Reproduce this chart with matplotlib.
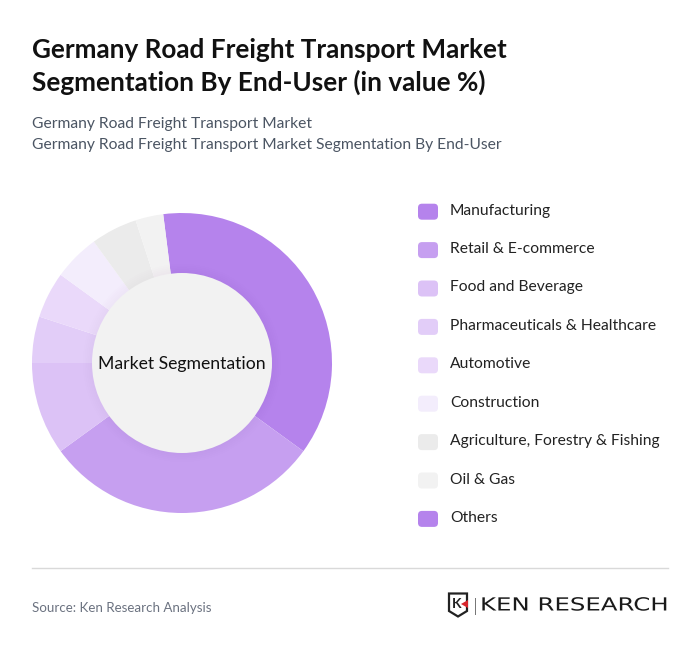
import matplotlib
matplotlib.use("Agg")
import matplotlib.pyplot as plt
from matplotlib.patches import FancyBboxPatch, Circle, Polygon, Rectangle
from matplotlib.patheffects import AbstractPathEffect
from matplotlib.transforms import Affine2D

categories = ["Manufacturing", "Retail & E-commerce", "Food and Beverage",
              "Pharmaceuticals & Healthcare", "Automotive", "Construction",
              "Agriculture, Forestry & Fishing", "Oil & Gas", "Others"]
values = [37, 30, 10, 5, 5, 5, 5, 3, 0]
colors = ["#b583ec", "#c69ff0", "#dcc2f6", "#e2cdf8", "#ead9fa", "#f3edfc",
          "#ebebeb", "#f2f2f2", "#b583ec"]
title_lines = ["Germany Road Freight Transport Market",
               "Segmentation By End-User (in value %)"]
subtitle_lines = ["Germany Road Freight Transport Market",
                  "Germany Road Freight Transport Market Segmentation By End-User"]
center_label = "Market Segmentation"
source = "Source: Ken Research Analysis"

plt.rcParams["font.family"] = ["Lato", "DejaVu Sans"]
W, H = 700, 653
fig = plt.figure(figsize=(W / 100, H / 100), dpi=100, facecolor="white")


class StretchX(AbstractPathEffect):
    """Widen a text's outline horizontally around a fixed x position."""
    def __init__(self, x0, factor):
        super().__init__()
        self.x0, self.factor = x0, factor

    def draw_path(self, renderer, gc, tpath, affine, rgbFace=None):
        stretched = affine + Affine2D().translate(-self.x0, 0).scale(self.factor, 1).translate(self.x0, 0)
        renderer.draw_path(gc, tpath, stretched, rgbFace)


bg = fig.add_axes([0, 0, 1, 1])
bg.set_xlim(0, W); bg.set_ylim(H, 0); bg.axis("off")

for i, line in enumerate(title_lines):
    bg.text(32, 50 + i * 32.5, line, fontsize=18.8, fontweight="bold", color="#111111",
            va="center", ha="left")
for i, line in enumerate(subtitle_lines):
    bg.text(32, 123.8 + i * 21, line, fontsize=11.23, color="#4b5563", va="center", ha="left")

# donut
ax = fig.add_axes([32 / W, 1 - 513 / H, 300 / W, 300 / H])
ax.pie(values, colors=colors, startangle=90 + 7.2, counterclock=False, radius=1.0,
       wedgeprops=dict(width=1.0, linewidth=0))
ax.set_xlim(-1.0, 1.0); ax.set_ylim(-1.0, 1.0); ax.set_aspect("equal")
for k in range(5):
    ax.add_patch(Circle((0, 0), 0.6 + (5 - k) * 0.012, fc="#8a6ab0", ec="none", alpha=0.006, zorder=3))
ax.add_patch(Circle((0, 0), 0.6, fc="#f2f2f2", ec="none", zorder=4))
ax.text(0, -0.005, center_label, fontsize=12.7, color="#111111", ha="center", va="center", zorder=5)

# legend
for i, (c, col) in enumerate(zip(categories, colors)):
    y = 211.7 + i * 38.4
    bg.add_patch(FancyBboxPatch((420, y - 6), 16, 12, boxstyle="round,pad=2,rounding_size=4",
                                fc=col, ec="none"))
    bg.text(450, y - 1, c, fontsize=11.22, color="#222222", va="center", ha="left")

# footer
bg.plot([32, 668], [567.8, 567.8], color="#d9d9d9", lw=1)
bg.text(32, 607.5, source, fontsize=9.65, color="#6b7280", va="center", ha="left")

# logo
bg.add_patch(Polygon([(449, 593.5), (467, 593.5), (467, 611), (458, 616.5), (449, 611)], closed=True,
                     fc="white", ec="#222222", lw=1.6))
bg.text(457, 604.5, "K", fontsize=10, fontweight="bold", color="#222222", ha="center", va="center")
bg.add_patch(Polygon([(468, 600), (468, 608), (461, 604)], closed=True, fc="#d8262c", ec="none"))
bg.add_patch(Rectangle((474.5, 598), 1, 17, fc="#777777", ec="none"))
logo = bg.text(480, 605.5, "KEN RESEARCH", fontsize=13, family=["DejaVu Sans"], color="#1a1a1a",
               va="center", ha="left")
logo.set_path_effects([StretchX(480, 188 / 139)])

fig.savefig("out.png", dpi=100, facecolor="white")
